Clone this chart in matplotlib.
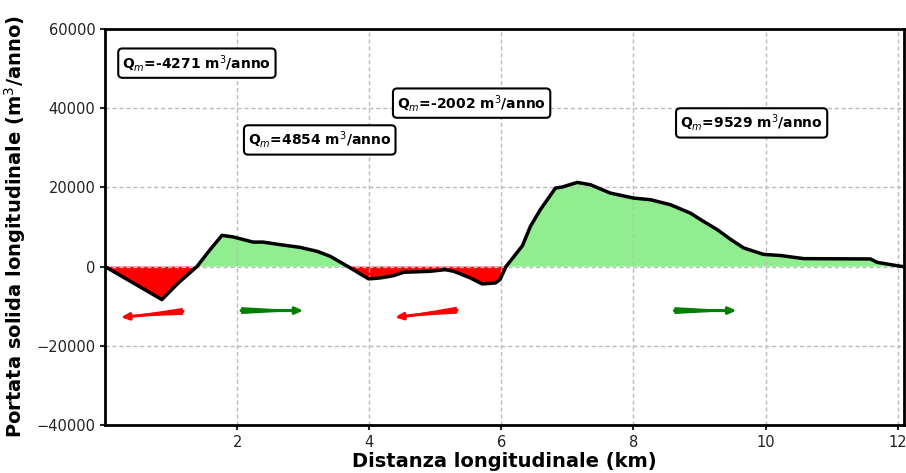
import numpy as np
import matplotlib
matplotlib.use("Agg")
import matplotlib.pyplot as plt

# Data (km, m^3/anno)
dist_km = [0.0, 0.86, 1.11, 1.39, 1.59, 1.77, 1.94, 2.24, 2.39, 2.65, 2.95, 3.21, 3.41,
           3.71, 3.99, 4.17, 4.37, 4.52, 4.92, 5.15, 5.28, 5.53, 5.71, 5.91, 5.98, 6.07,
           6.32, 6.44, 6.59, 6.82, 6.92, 7.15, 7.35, 7.65, 8.0, 8.26, 8.56, 8.86, 9.02,
           9.27, 9.47, 9.67, 9.97, 10.23, 10.58, 11.59, 11.69, 12.05, 12.1]
portata = [0, -8320, -4100, 0, 4290, 7900, 7500, 6200, 6200, 5550, 4870, 3870, 2600,
           -300, -3100, -2850, -2270, -1430, -1180, -760, -1180, -2850, -4370, -4120, -3280, 0,
           5300, 10160, 14380, 19850, 20100, 21270, 20680, 18580, 17320, 16900, 15640, 13540, 11850,
           9330, 6900, 4710, 3100, 2800, 2020, 1940, 1080, 80, 0]

label_texts = [r"Q$_m$=-4271 m$^3$/anno", r"Q$_m$=4854 m$^3$/anno",
               r"Q$_m$=-2002 m$^3$/anno", r"Q$_m$=9529 m$^3$/anno"]
label_x = [1.39, 3.25, 5.55, 9.79]
label_y = [51400, 32000, 41300, 36300]

# arrows
arrow_tail_x = [1.18, 2.06, 5.33, 8.62]
arrow_tail_y = [-11300, -11100, -11000, -11100]
arrow_head_x = [0.24, 3.0, 4.39, 9.56]
arrow_head_y = [-12800, -11100, -12800, -11100]
arrow_colors = ["red", "green", "red", "green"]

x = np.array(dist_km)
y = np.array(portata)

fig = plt.figure(figsize=(9.06, 4.73), dpi=100)
ax = fig.add_axes([0.116, 0.1015, 0.882, 0.837])

ax.fill_between(x, y, 0, where=y >= 0, interpolate=True, color="#90ee90", lw=0)
ax.fill_between(x, y, 0, where=y <= 0, interpolate=True, color="#ff0000", lw=0)
ax.plot(x, y, color="black", lw=2.5, solid_joinstyle="round")

for tx, ty, hx, hy, c in zip(arrow_tail_x, arrow_tail_y, arrow_head_x, arrow_head_y, arrow_colors):
    ax.annotate("", xy=(hx, hy), xytext=(tx, ty),
                arrowprops=dict(arrowstyle="wedge,tail_width=0.5,shrink_factor=0.5",
                                color=c, lw=0, shrinkA=0, shrinkB=0))
    ax.annotate("", xy=(hx, hy), xytext=(tx, ty),
                arrowprops=dict(arrowstyle="-|>,head_length=0.45,head_width=0.2",
                                color=c, lw=2.2, shrinkA=0, shrinkB=0))

for t, lx, ly in zip(label_texts, label_x, label_y):
    ax.text(lx, ly, t, ha="center", va="center", fontsize=10, fontweight="bold",
            bbox=dict(boxstyle="round,pad=0.3", fc="white", ec="black", lw=1.5))

ax.set_xlim(0, 12.1)
ax.set_ylim(-40000, 60000)
ax.set_xticks([2, 4, 6, 8, 10, 12])
ax.set_yticks([-40000, -20000, 0, 20000, 40000, 60000])
ax.grid(True, color="#bbbbbb", linestyle=(0, (3, 2)), lw=1)
ax.tick_params(labelsize=10.5, colors="#222222", width=1.5)
for s in ax.spines.values():
    s.set_linewidth(2)

ax.set_xlabel("Distanza longitudinale (km)", fontsize=14, fontweight="bold", labelpad=2)
ax.set_ylabel(r"Portata solida longitudinale (m$^3$/anno)", fontsize=14, fontweight="bold", labelpad=6)

fig.savefig("out.png", dpi=100)
